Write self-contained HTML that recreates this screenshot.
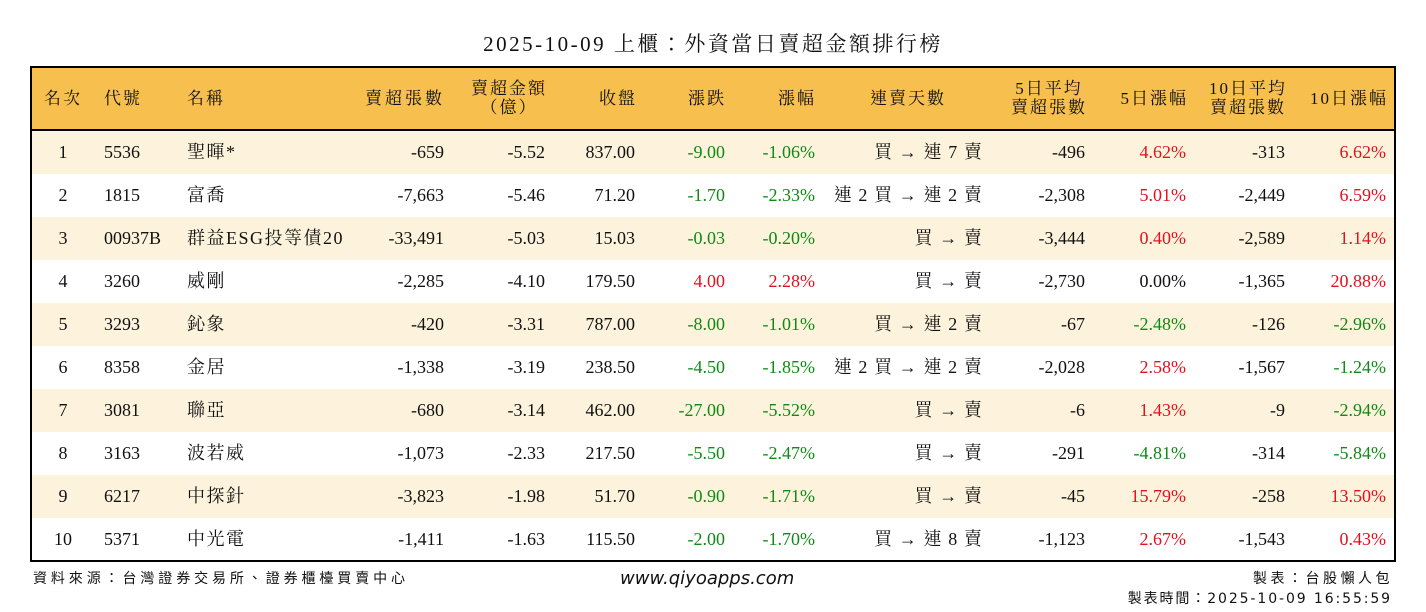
<!DOCTYPE html>
<html><head><meta charset="utf-8"><style>
body{margin:0;width:1426px;height:612px;background:#fff;position:relative;overflow:hidden;font-family:"Liberation Serif","Noto Serif CJK TC","Noto Serif CJK SC",serif;color:#111}
.t{position:absolute;top:28px;left:0;width:1426px;text-align:center;font-size:21px;letter-spacing:2.5px}
.box{position:absolute;left:30px;top:66px;width:1362px;height:492px;border:2px solid #000}
.hd{position:absolute;left:0;top:0;width:1362px;height:61px;background:#f6bf4e;border-bottom:2px solid #000}
.r{position:absolute;left:0;width:1362px;height:43px}
.o{background:#fdf3dc}
.c{position:absolute;font-size:18px;line-height:43px;white-space:nowrap}
.k{letter-spacing:1.5px}
.k2{letter-spacing:1.1px}
.h{position:absolute;font-size:17px;line-height:19px;white-space:nowrap;text-align:center;letter-spacing:2px}
.R{color:#e3101e}.G{color:#0f8a14}
.f{position:absolute;font-family:"DejaVu Sans","Noto Sans CJK TC",sans-serif;font-size:14px;white-space:nowrap}
</style></head><body>
<div class="t">2025-10-09 上櫃：外資當日賣超金額排行榜</div>
<div class="box">
<div class="hd">
<div class="h" style="left:12px;top:21px">名次</div>
<div class="h" style="left:72px;top:21px">代號</div>
<div class="h" style="left:155px;top:21px">名稱</div>
<div class="h" style="right:949px;top:21px;letter-spacing:3px">賣超張數</div>
<div class="h" style="right:847px;top:11px">賣超金額<br>（億）</div>
<div class="h" style="right:757px;top:21px">收盤</div>
<div class="h" style="right:668px;top:21px">漲跌</div>
<div class="h" style="right:578px;top:21px">漲幅</div>
<div class="h" style="left:838px;top:21px">連賣天數</div>
<div class="h" style="right:307px;top:11px">5日平均<br>賣超張數</div>
<div class="h" style="right:206px;top:21px">5日漲幅</div>
<div class="h" style="right:107px;top:11px">10日平均<br>賣超張數</div>
<div class="h" style="right:6px;top:21px">10日漲幅</div>
</div>
<div id="rows"></div>
</div>
<div class="f" style="left:33px;top:568px;letter-spacing:3.9px">資料來源：台灣證券交易所、證券櫃檯買賣中心</div>
<div class="f" style="left:620px;top:568px;font-size:18px;font-style:italic">www.qiyoapps.com</div>
<div class="f" style="right:33px;top:568px;letter-spacing:3.5px">製表：台股懶人包</div>
<div class="f" style="right:34px;top:588px;letter-spacing:1.9px">製表時間：2025-10-09 16:55:59</div>
<script>
var d=[
["1","5536","聖暉*","-659","-5.52","837.00","-9.00","-1.06%","買 → 連 7 賣","-496","4.62%","-313","6.62%"],
["2","1815","富喬","-7,663","-5.46","71.20","-1.70","-2.33%","連 2 買 → 連 2 賣","-2,308","5.01%","-2,449","6.59%"],
["3","00937B","群益ESG投等債20","-33,491","-5.03","15.03","-0.03","-0.20%","買 → 賣","-3,444","0.40%","-2,589","1.14%"],
["4","3260","威剛","-2,285","-4.10","179.50","4.00","2.28%","買 → 賣","-2,730","0.00%","-1,365","20.88%"],
["5","3293","鈊象","-420","-3.31","787.00","-8.00","-1.01%","買 → 連 2 賣","-67","-2.48%","-126","-2.96%"],
["6","8358","金居","-1,338","-3.19","238.50","-4.50","-1.85%","連 2 買 → 連 2 賣","-2,028","2.58%","-1,567","-1.24%"],
["7","3081","聯亞","-680","-3.14","462.00","-27.00","-5.52%","買 → 賣","-6","1.43%","-9","-2.94%"],
["8","3163","波若威","-1,073","-2.33","217.50","-5.50","-2.47%","買 → 賣","-291","-4.81%","-314","-5.84%"],
["9","6217","中探針","-3,823","-1.98","51.70","-0.90","-1.71%","買 → 賣","-45","15.79%","-258","13.50%"],
["10","5371","中光電","-1,411","-1.63","115.50","-2.00","-1.70%","買 → 連 8 賣","-1,123","2.67%","-1,543","0.43%"]];
function col(v){if(v=="0.00%")return"";return v[0]=="-"?"G":"R"}
var h="";
d.forEach(function(r,i){
h+='<div class="r'+(i%2==0?' o':'')+'" style="top:'+(63+43*i)+'px">';
h+='<div class="c" style="left:0;width:62px;text-align:center">'+r[0]+'</div>';
h+='<div class="c" style="left:72px">'+r[1]+'</div>';
h+='<div class="c k" style="left:155px">'+r[2]+'</div>';
var rt=[[3,950,""],[4,849,""],[5,759,""],[6,669,col(r[6])],[7,579,col(r[7])],[8,411,"k2"],[9,309,""],[10,208,col(r[10])],[11,109,""],[12,8,col(r[12])]];
rt.forEach(function(c){h+='<div class="c '+c[2]+'" style="right:'+c[1]+'px">'+r[c[0]]+'</div>'});
h+='</div>';});
document.getElementById('rows').outerHTML=h;
</script>
</body></html>
